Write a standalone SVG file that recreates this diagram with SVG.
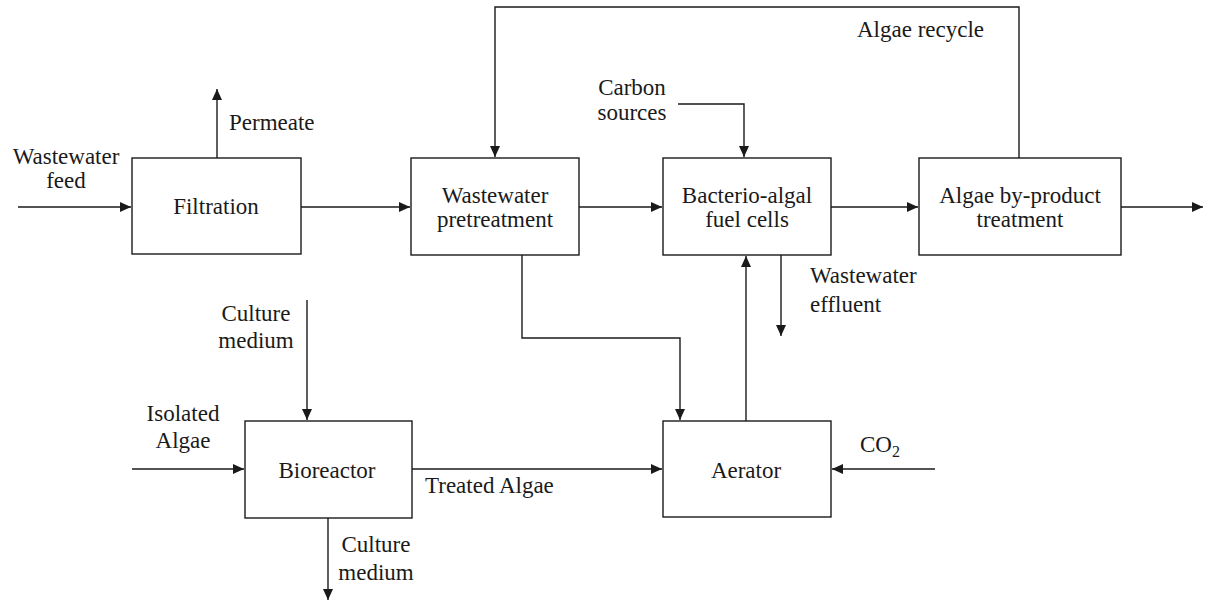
<svg xmlns="http://www.w3.org/2000/svg" width="1206" height="601" viewBox="0 0 1206 601">
<style>
.box{fill:#fff;stroke:#1a1a1a;stroke-width:1.4}
.ln{fill:none;stroke:#1a1a1a;stroke-width:1.4}
.c{text-anchor:middle}
</style>
<defs>
<marker id="ah" markerWidth="12" markerHeight="10" refX="11" refY="5" orient="auto" markerUnits="userSpaceOnUse">
<path d="M0,0 L11,5 L0,10 z" fill="#1a1a1a"/>
</marker>
</defs>
<rect width="1206" height="601" fill="#fff"/>
<g id="connectors">
<path class="ln" d="M18,207 H131" marker-end="url(#ah)"/>
<path class="ln" d="M217,158 V89" marker-end="url(#ah)"/>
<path class="ln" d="M301,207 H410" marker-end="url(#ah)"/>
<path class="ln" d="M579,207 H662" marker-end="url(#ah)"/>
<path class="ln" d="M831,207 H918" marker-end="url(#ah)"/>
<path class="ln" d="M1121,207 H1203" marker-end="url(#ah)"/>
<path class="ln" d="M1019,158 V7 H495 V157" marker-end="url(#ah)"/>
<path class="ln" d="M678,104 H744 V157" marker-end="url(#ah)"/>
<path class="ln" d="M522,255 V338 H680 V420" marker-end="url(#ah)"/>
<path class="ln" d="M746,421 V256" marker-end="url(#ah)"/>
<path class="ln" d="M781,255 V336" marker-end="url(#ah)"/>
<path class="ln" d="M307,300 V420" marker-end="url(#ah)"/>
<path class="ln" d="M132,469 H244" marker-end="url(#ah)"/>
<path class="ln" d="M412,469 H662" marker-end="url(#ah)"/>
<path class="ln" d="M935,469 H832" marker-end="url(#ah)"/>
<path class="ln" d="M328,518 V600" marker-end="url(#ah)"/>
</g>
<g font-family="Liberation Serif, Times New Roman, serif" font-size="23" fill="#1a1a1a">
<g id="filtration">
<rect class="box" x="132" y="158" width="169" height="96"/>
<text class="c" x="216" y="214">Filtration</text>
</g>
<g id="pretreatment">
<rect class="box" x="411" y="158" width="168" height="97"/>
<text class="c" x="495" y="203">Wastewater</text>
<text class="c" x="495" y="227">pretreatment</text>
</g>
<g id="fuelcells">
<rect class="box" x="663" y="158" width="168" height="97"/>
<text class="c" x="747" y="203">Bacterio-algal</text>
<text class="c" x="747" y="227">fuel cells</text>
</g>
<g id="byproduct">
<rect class="box" x="919" y="158" width="202" height="97"/>
<text class="c" x="1020" y="203">Algae by-product</text>
<text class="c" x="1020" y="227">treatment</text>
</g>
<g id="bioreactor">
<rect class="box" x="245" y="421" width="167" height="97"/>
<text class="c" x="327" y="478">Bioreactor</text>
</g>
<g id="aerator">
<rect class="box" x="663" y="421" width="168" height="96"/>
<text class="c" x="746" y="478">Aerator</text>
</g>
<g id="labels">
<text class="c" x="66" y="164">Wastewater</text>
<text class="c" x="66" y="188">feed</text>
<text x="229" y="130">Permeate</text>
<text x="857" y="37">Algae recycle</text>
<text class="c" x="632" y="95">Carbon</text>
<text class="c" x="632" y="120">sources</text>
<text class="c" x="256" y="321">Culture</text>
<text class="c" x="256" y="348">medium</text>
<text class="c" x="183" y="421">Isolated</text>
<text class="c" x="183" y="448">Algae</text>
<text x="425" y="493">Treated Algae</text>
<text class="c" x="376" y="552">Culture</text>
<text class="c" x="376" y="580">medium</text>
<text x="810" y="283">Wastewater</text>
<text x="810" y="312">effluent</text>
<text x="860" y="452">CO<tspan font-size="16" dy="5">2</tspan></text>
</g>
</g>
</svg>
